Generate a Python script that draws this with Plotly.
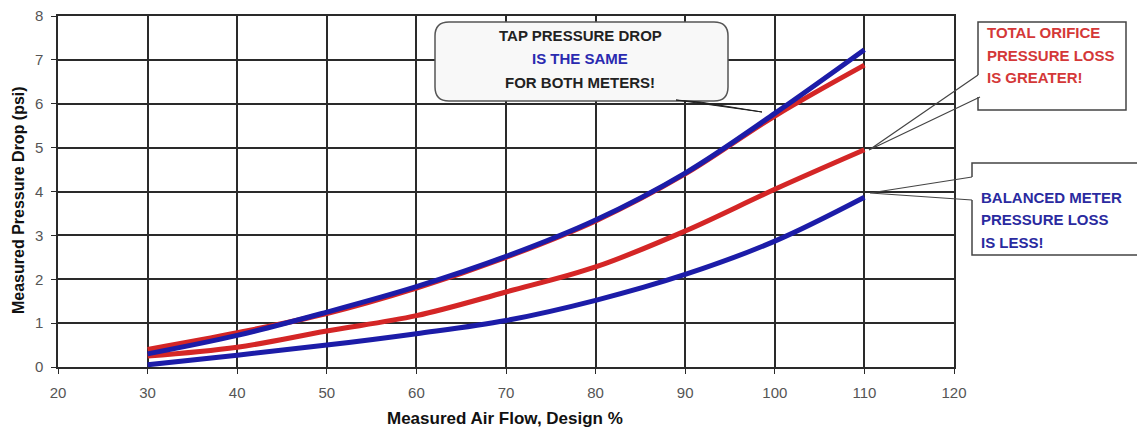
import plotly.graph_objects as go

# ---- data ----
air_flow = [30, 40, 50, 60, 70, 80, 90, 100, 110]
balanced_tap_dp = [0.30, 0.72, 1.25, 1.83, 2.52, 3.35, 4.42, 5.78, 7.23]
orifice_tap_dp = [0.40, 0.78, 1.22, 1.80, 2.50, 3.33, 4.40, 5.72, 6.88]
orifice_total_loss = [0.25, 0.45, 0.82, 1.17, 1.71, 2.28, 3.10, 4.05, 4.95]
balanced_total_loss = [0.05, 0.27, 0.50, 0.76, 1.06, 1.52, 2.11, 2.87, 3.87]

x_ticks = [20, 30, 40, 50, 60, 70, 80, 90, 100, 110, 120]
y_ticks = [0, 1, 2, 3, 4, 5, 6, 7, 8]

BLUE = "#1c1ca8"
RED = "#d42626"
FONT = "Liberation Sans, Arial, sans-serif"

# ---- layout geometry (pixels) ----
W, H = 1137, 429
L, R, T, B = 58, 954, 16, 367


def px(x):
    return (x - L) / (R - L)


def py(y):
    return (B - y) / (B - T)


fig = go.Figure()
for name, ys, col in [
    ("Orifice tap DP", orifice_tap_dp, RED),
    ("Orifice total loss", orifice_total_loss, RED),
    ("Balanced total loss", balanced_total_loss, BLUE),
    ("Balanced tap DP", balanced_tap_dp, BLUE),
]:
    fig.add_trace(go.Scatter(x=air_flow, y=ys, mode="lines", name=name,
                             line=dict(color=col, width=5, shape="spline"),
                             showlegend=False))

axis_common = dict(showgrid=True, gridcolor="#2a2a2a", gridwidth=1.5,
                   showline=True, linecolor="#2a2a2a", linewidth=1.5, mirror=True,
                   ticks="outside", ticklen=5, tickcolor="#2a2a2a",
                   tickfont=dict(family=FONT, size=15, color="#555555"),
                   zeroline=False, automargin=False)

fig.update_xaxes(range=[20, 120], tickvals=x_ticks, ticklabelstandoff=6, **axis_common)
fig.update_yaxes(range=[0, 8], tickvals=y_ticks, ticklabelstandoff=5, **axis_common)

shapes = []
# rounded callout box
bx0, bx1, by0, by1, rr = 435, 728, 22, 101, 14
path = (f"M {px(bx0+rr)},{py(by0)} L {px(bx1-rr)},{py(by0)} "
        f"Q {px(bx1)},{py(by0)} {px(bx1)},{py(by0+rr)} L {px(bx1)},{py(by1-rr)} "
        f"Q {px(bx1)},{py(by1)} {px(bx1-rr)},{py(by1)} L {px(bx0+rr)},{py(by1)} "
        f"Q {px(bx0)},{py(by1)} {px(bx0)},{py(by1-rr)} L {px(bx0)},{py(by0+rr)} "
        f"Q {px(bx0)},{py(by0)} {px(bx0+rr)},{py(by0)} Z")
shapes.append(dict(type="path", path=path, xref="paper", yref="paper",
                   fillcolor="#f8f8f8", line=dict(color="#555555", width=1.5), layer="above"))
# tail
tail = f"M {px(676)},{py(100)} L {px(762)},{py(112)} L {px(700)},{py(102)} Z"
shapes.append(dict(type="path", path=tail, xref="paper", yref="paper",
                   fillcolor="#222222", line=dict(color="#222222", width=1), layer="above"))

# red box with wedge
rb = (f"M {px(978)},{py(75)} L {px(978)},{py(22)} L {px(1126)},{py(22)} "
      f"L {px(1126)},{py(110)} L {px(978)},{py(110)} L {px(978)},{py(97)}")
shapes.append(dict(type="path", path=rb + " Z", xref="paper", yref="paper",
                   fillcolor="white", line=dict(color="rgba(0,0,0,0)", width=0), layer="above"))
shapes.append(dict(type="path", path=rb, xref="paper", yref="paper",
                   line=dict(color="#444444", width=1.5), layer="above"))
shapes.append(dict(type="path",
                   path=f"M {px(978)},{py(75)} L {px(869)},{py(150)} L {px(980)},{py(97)}",
                   xref="paper", yref="paper", line=dict(color="#444444", width=1.2), layer="above"))

# blue box with wedge
bb = (f"M {px(972)},{py(177)} L {px(972)},{py(163)} L {px(1140)},{py(163)} "
      f"L {px(1140)},{py(255)} L {px(972)},{py(255)} L {px(972)},{py(200)}")
shapes.append(dict(type="path", path=bb + " Z", xref="paper", yref="paper",
                   fillcolor="white", line=dict(color="rgba(0,0,0,0)", width=0), layer="above"))
shapes.append(dict(type="path", path=bb, xref="paper", yref="paper",
                   line=dict(color="#444444", width=1.5), layer="above"))
shapes.append(dict(type="path",
                   path=f"M {px(972)},{py(177)} L {px(870)},{py(193)} L {px(972)},{py(200)}",
                   xref="paper", yref="paper", line=dict(color="#444444", width=1.2), layer="above"))

annotations = []


def txt(s, x, y, color, anchor, size=15, angle=0):
    annotations.append(dict(text=f"<b>{s}</b>", x=px(x), y=py(y), xref="paper", yref="paper",
                            xanchor=anchor, yanchor="middle", showarrow=False, textangle=angle,
                            font=dict(family=FONT, size=size, color=color)))


for s, y, c in [("TAP PRESSURE DROP", 35, "#222222"), ("IS THE SAME", 59, "#2a2ab0"),
                ("FOR BOTH METERS!", 82, "#222222")]:
    txt(s, 580, y, c, "center")
for s, y in [("TOTAL ORIFICE", 33), ("PRESSURE LOSS", 55), ("IS GREATER!", 78)]:
    txt(s, 985, y, "#d43838", "left")
for s, y in [("BALANCED METER", 197), ("PRESSURE LOSS", 219), ("IS LESS!", 242)]:
    txt(s, 979, y, "#2a2aa0", "left")

# axis titles
txt("Measured Air Flow, Design %", 505, 418, "#111111", "center", size=17)
txt("Measured Pressure Drop (psi)", 18, 200, "#111111", "center", size=16, angle=-90)

fig.update_layout(width=W, height=H, margin=dict(l=L, r=W - R, t=T, b=H - B, autoexpand=False),
                  paper_bgcolor="white", plot_bgcolor="white",
                  shapes=shapes, annotations=annotations)

fig.write_html("out.html", config={"displayModeBar": False},
               post_script="document.body.style.margin='0';document.body.style.overflow='hidden';")
